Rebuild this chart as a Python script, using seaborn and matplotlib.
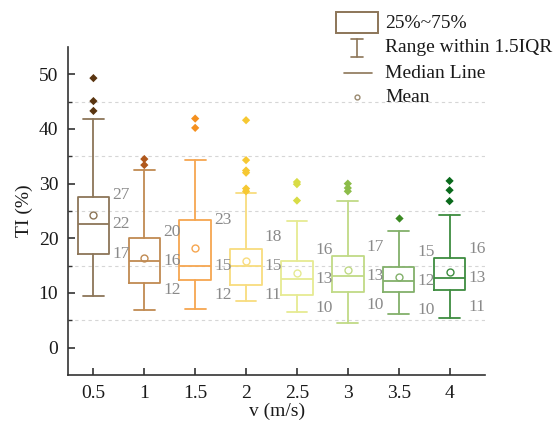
import pandas as pd
import matplotlib.pyplot as plt
import seaborn as sns
from matplotlib.patches import Rectangle
from matplotlib.lines import Line2D

# Values
speeds = ['0.5', '1', '1.5', '2', '2.5', '3', '3.5', '4']
q1 = [17.2, 11.8, 12.4, 11.4, 9.7, 10.2, 10.2, 10.6]
med = [22.6, 15.8, 14.9, 14.9, 12.5, 13.1, 12.2, 12.7]
q3 = [27.5, 20.0, 23.4, 18.1, 15.9, 16.7, 14.8, 16.4]
means = [24.2, 16.4, 18.2, 15.9, 13.7, 14.2, 13.0, 13.9]
wlo = [9.4, 6.8, 7.1, 8.5, 6.5, 4.5, 6.2, 5.5]
whi = [41.9, 32.5, 34.4, 28.2, 23.1, 26.8, 21.4, 24.2]
outliers = [[49.3, 45.1, 43.3], [34.5, 33.4], [41.9, 40.2],
            [41.6, 34.3, 32.4, 32.0, 29.1, 28.6], [30.3, 29.9, 26.9],
            [30.0, 29.2, 28.6], [23.7], [30.5, 28.8, 26.8]]
lab_q3 = ['27', '20', '23', '18', '16', '17', '15', '16']
lab_med = ['22', '16', '15', '15', '13', '13', '12', '13']
lab_q1 = ['17', '12', '12', '11', '10', '10', '10', '11']

box_colors = ['#8C7558', '#C08A52', '#F6A650', '#F8DC7E', '#E6EA92',
              '#C0DA86', '#82B06A', '#3E8C40']
out_colors = ['#5A3510', '#B0581C', '#F5901E', '#F6C832', '#D8DC46',
              '#8CBC4A', '#3A8A22', '#0A6A1C']

sns.set_theme(style='ticks')
plt.rcParams['font.family'] = ['Liberation Serif', 'DejaVu Serif']
plt.rcParams['font.size'] = 12

fig = plt.figure(figsize=(5.6, 4.23), dpi=100)
ax = fig.add_axes([0.1214, 0.1135, 0.745, 0.7755])

# dashed grid at minor positions
for y in [5, 15, 25, 35, 45]:
    ax.axhline(y, color='#d6d6d6', lw=0.8, ls=(0, (3, 3)), zorder=0)

for i in range(len(speeds)):
    stats = [dict(q1=q1[i], med=med[i], q3=q3[i], mean=means[i],
                  whislo=wlo[i], whishi=whi[i], fliers=[])]
    c = box_colors[i]
    ax.bxp(stats, positions=[i], widths=0.62, capwidths=0.41, showmeans=True,
           showfliers=False, manage_ticks=False,
           boxprops=dict(color=c, lw=1.3),
           whiskerprops=dict(color=c, lw=1.3),
           capprops=dict(color=c, lw=1.3),
           medianprops=dict(color=c, lw=1.3),
           meanprops=dict(marker='o', markerfacecolor='none', markeredgecolor=c,
                          markersize=5, markeredgewidth=1.0))
    # value labels right of the box
    xl = i + 0.37
    ax.text(xl, med[i], lab_med[i], color='#8a8a8a', fontsize=12.5, va='center', ha='left')
    ax.text(xl, max(q3[i], med[i] + 5.3), lab_q3[i], color='#8a8a8a', fontsize=12.5,
            va='center', ha='left')
    ax.text(xl, min(q1[i], med[i] - 5.3), lab_q1[i], color='#8a8a8a', fontsize=12.5,
            va='center', ha='left')

rows = []
for s, vals in zip(speeds, outliers):
    for v in vals:
        rows.append({'v': s, 'TI': v})
df_out = pd.DataFrame(rows)
sns.stripplot(data=df_out, x='v', y='TI', hue='v', order=speeds, hue_order=speeds,
              palette=dict(zip(speeds, out_colors)), jitter=False, marker='D',
              size=4.2, linewidth=0, legend=False, ax=ax, zorder=3)

ax.set_xlim(-0.5, 7.7)
ax.set_ylim(-5, 55)
ax.set_xticks(range(len(speeds)))
ax.set_xticklabels(speeds)
ax.set_yticks([0, 10, 20, 30, 40, 50])
ax.set_yticks([5, 15, 25, 35, 45], minor=True)
ax.tick_params(axis='both', which='major', direction='in', length=5, width=1.2,
               colors='#333333', labelsize=14, labelcolor='#1a1a1a', pad=7)
ax.tick_params(axis='y', which='minor', direction='in', length=3, width=1.0, colors='#333333')
ax.set_xlabel('v (m/s)', fontsize=14, labelpad=1, color='#1a1a1a')
ax.set_ylabel('TI (%)', fontsize=14, labelpad=4, color='#1a1a1a')
for sp in ['top', 'right']:
    ax.spines[sp].set_visible(False)
for sp in ['left', 'bottom']:
    ax.spines[sp].set_color('#333333')
    ax.spines[sp].set_linewidth(1.2)

# hand-made legend in figure pixel coordinates
H = 423.0
def fx(px):
    return px / 560.0
def fy(py):
    return 1 - py / H

lc = '#8C7558'
fig.patches.append(Rectangle((fx(336), fy(33)), fx(42), 21 / H, fill=False, ec=lc, lw=1.4,
                             transform=fig.transFigure))
fig.lines.append(Line2D([fx(357), fx(357)], [fy(39), fy(57)], color=lc, lw=1.2,
                        transform=fig.transFigure))
fig.lines.append(Line2D([fx(351), fx(363)], [fy(39), fy(39)], color=lc, lw=1.2,
                        transform=fig.transFigure))
fig.lines.append(Line2D([fx(351), fx(363)], [fy(57), fy(57)], color=lc, lw=1.2,
                        transform=fig.transFigure))
fig.lines.append(Line2D([fx(344), fx(372)], [fy(73), fy(73)], color=lc, lw=1.2,
                        transform=fig.transFigure))
fig.lines.append(Line2D([fx(357)], [fy(97)], color='#9a8a70', marker='o', markersize=3.5,
                        markerfacecolor='none', lw=0, transform=fig.transFigure))
for txt, py in [('25%~75%', 23), ('Range within 1.5IQR', 48), ('Median Line', 73), ('Mean', 97)]:
    fig.text(fx(385), fy(py), txt, fontsize=14, va='center', ha='left', color='#1a1a1a')

fig.savefig('out.png', dpi=100)
